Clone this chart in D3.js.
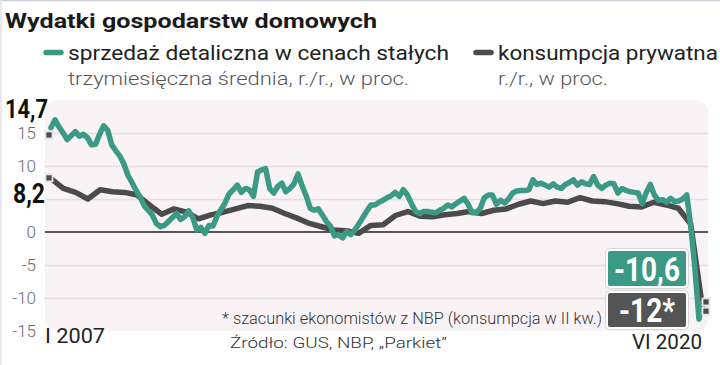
<!DOCTYPE html>
<html>
<head>
<meta charset="utf-8">
<script src="https://cdn.jsdelivr.net/npm/d3@7"></script>
<style>
  body { margin: 0; background: #fff; }
  svg { display: block; font-family: Roboto, "Noto Sans", sans-serif; }
</style>
</head>
<body>
<div id="chart"></div>
<script>
// data
// green: retail sales, 3-month average, monthly I 2007 .. VI 2020
var greenValues = [
  15.8, 17.0, 15.9, 15.0, 14.0, 14.6, 15.2, 14.5, 14.8, 14.3, 13.2, 13.3,
  14.8, 16.1, 15.4, 13.2, 12.3, 11.5, 10.3, 8.6, 7.5, 6.3, 5.3, 4.0,
  3.3, 2.6, 1.3, 0.8, 1.0, 1.6, 2.2, 2.8, 1.9, 2.3, 3.2, 2.2,
  0.3, 0.7, -0.2, 1.0, 0.9, 2.4, 3.4, 4.4, 5.8, 6.4, 7.1, 6.0,
  6.6, 6.4, 5.4, 9.1, 9.4, 9.6, 6.6, 5.9, 6.9, 7.4, 6.1, 6.6,
  7.3, 8.8, 7.0, 5.5, 3.6, 3.3, 3.5, 2.6, 1.6, 0.9, -0.6, -0.4,
  -0.9, 0.1, -0.4, 0.3, 1.2, 2.2, 3.2, 4.1, 4.1, 4.5, 4.8, 5.2,
  5.5, 6.0, 5.4, 6.4, 5.6, 4.3, 3.1, 2.8, 3.1, 3.1, 3.0, 2.9,
  3.3, 3.6, 4.1, 3.8, 4.3, 4.7, 5.1, 4.2, 2.9, 2.9, 3.6, 5.2,
  5.6, 5.6, 4.2, 4.8, 4.4, 5.0, 5.9, 6.2, 6.3, 6.3, 6.4, 7.9,
  7.2, 7.4, 7.1, 6.8, 7.3, 6.8, 6.6, 7.2, 7.5, 7.9, 7.1, 7.6,
  7.3, 7.2, 8.4, 7.1, 6.6, 7.1, 7.4, 7.3, 5.9, 6.6, 6.3, 6.1,
  6.0, 5.9, 4.3, 6.0, 7.2, 5.6, 4.8, 4.9, 4.5, 5.1, 4.6, 4.7,
  5.0, 5.6, 0.8, -5.5, -13.2, -10.6
];
// gray: private consumption, quarterly I kw. 2007 .. II kw. 2020
var grayValues = [
  8.1, 6.6, 6.0, 5.0, 6.4, 6.1, 6.0, 5.6, 4.1, 2.7, 3.5, 3.0,
  2.0, 2.6, 3.0, 3.5, 4.0, 3.9, 3.6, 2.8, 2.1, 1.3, 0.8, 0.3,
  0.2, -0.2, 1.0, 1.1, 2.5, 3.1, 2.4, 2.3, 2.6, 2.8, 3.1, 2.8,
  3.3, 3.5, 4.2, 4.7, 4.3, 4.7, 4.5, 5.2, 4.7, 4.6, 4.3, 3.9,
  3.8, 4.5, 4.1, 3.6, 1.2, -12.0
];
var yTicks = [15, 10, 0, -5, -10, -15];
var gridTicks = [15, 10, 5, -5, -10];
var startLabels = ["14,7", "8,2"];
var startValues = [14.7, 8.2];
var endLabels = ["-10,6", "-12*"];
var endValues = [-10.6, -12];
var xLabels = ["I 2007", "VI 2020"];

var svgWidth = 720;
var svgHeight = 365;
var green = "#3a9a85";
var gray = "#4b4b4b";

var svg = d3.select("#chart")
    .append("svg")
    .attr("width", svgWidth)
    .attr("height", svgHeight);

// frame lines
svg.append("line").attr("x1", 0).attr("x2", svgWidth).attr("y1", 0.5).attr("y2", 0.5)
    .attr("stroke", "#cfd0dc").attr("stroke-width", 1.5);
svg.append("line").attr("x1", 1).attr("x2", 1).attr("y1", 0).attr("y2", svgHeight)
    .attr("stroke", "#e2e2e8").attr("stroke-width", 1.5);

// title
svg.append("text")
    .attr("x", 5).attr("y", 28)
    .attr("font-size", 21).attr("font-weight", 700).attr("fill", "#1a1a1a")
    .attr("textLength", 372).attr("lengthAdjust", "spacingAndGlyphs")
    .text("Wydatki gospodarstw domowych");

// legend
var legend = [
  { x: 44, color: green, l1: "sprzedaż detaliczna w cenach stałych", w1: 381, l2: "trzymiesięczna średnia, r./r., w proc.", w2: 341 },
  { x: 474, color: gray, l1: "konsumpcja prywatna", w1: 220, l2: "r./r., w proc.", w2: 110 }
];
legend.forEach(function (d) {
  svg.append("line")
      .attr("x1", d.x + 2).attr("x2", d.x + 17).attr("y1", 52.5).attr("y2", 52.5)
      .attr("stroke", d.color).attr("stroke-width", 5.5).attr("stroke-linecap", "round");
  svg.append("text")
      .attr("x", d.x + 24).attr("y", 60)
      .attr("font-size", 20).attr("fill", "#222")
      .attr("textLength", d.w1).attr("lengthAdjust", "spacingAndGlyphs")
      .text(d.l1);
  svg.append("text")
      .attr("x", d.x + 24).attr("y", 85)
      .attr("font-size", 18).attr("font-weight", 300).attr("fill", "#555")
      .attr("textLength", d.w2).attr("lengthAdjust", "spacingAndGlyphs")
      .text(d.l2);
});

// plot panel
var panel = { left: 45, right: 708, top: 100, bottom: 331 };
svg.append("rect")
    .attr("x", panel.left).attr("y", panel.top)
    .attr("width", panel.right - panel.left).attr("height", panel.bottom - panel.top)
    .attr("rx", 12).attr("fill", "#f9f3f6");

var xScale = d3.scaleLinear()
    .domain([0, greenValues.length - 1])
    .range([51, 703]);
var yScale = d3.scaleLinear()
    .domain([-15, 15])
    .range([331, 133]);

// gridlines
var grid = svg.append("g")
    .attr("transform", `translate(${panel.left}, 0)`)
    .call(d3.axisRight(yScale).tickValues(gridTicks).tickSize(panel.right - panel.left).tickFormat(""));
grid.select(".domain").remove();
grid.selectAll(".tick line").attr("stroke", "#e6dce2").attr("stroke-width", 1.6);

// zero line
svg.append("line")
    .attr("x1", panel.left).attr("x2", panel.right)
    .attr("y1", yScale(0)).attr("y2", yScale(0))
    .attr("stroke", "#555").attr("stroke-width", 2);

// y tick labels
var yAxis = svg.append("g")
    .attr("transform", "translate(36, 0)")
    .call(d3.axisLeft(yScale).tickValues(yTicks).tickSize(0).tickPadding(0).tickFormat(d => String(d)));
yAxis.select(".domain").remove();
yAxis.selectAll("text")
    .attr("font-family", "Roboto, sans-serif")
    .attr("font-size", 17).attr("font-weight", 300).attr("fill", "#6a6a6a");

// lines
var grayLine = d3.line()
    .x((d, i) => xScale(i * (greenValues.length - 1) / (grayValues.length - 1)))
    .y(d => yScale(d));
var greenLine = d3.line()
    .x((d, i) => xScale(i))
    .y(d => yScale(d));

svg.append("path")
    .datum(grayValues)
    .attr("d", grayLine)
    .attr("fill", "none").attr("stroke", gray)
    .attr("stroke-width", 5.5).attr("stroke-linejoin", "round").attr("stroke-linecap", "round");
svg.append("path")
    .datum(greenValues)
    .attr("d", greenLine)
    .attr("fill", "none").attr("stroke", green)
    .attr("stroke-width", 5.5).attr("stroke-linejoin", "round").attr("stroke-linecap", "round");

// end markers
function marker(x, v) {
  svg.append("rect")
      .attr("x", x - 3.5).attr("y", yScale(v) - 3.5)
      .attr("width", 7).attr("height", 7)
      .attr("fill", "#4b4b4b").attr("stroke", "#e4e4e4").attr("stroke-width", 1.8);
}
startValues.forEach(v => marker(xScale(0) - 2, v));
endValues.forEach(v => marker(xScale(greenValues.length - 1) + 3, v));

// start value labels
svg.append("text")
    .attr("x", 5).attr("y", 118)
    .attr("font-size", 26).attr("font-weight", 700).attr("fill", "#111")
    .attr("textLength", 43).attr("lengthAdjust", "spacingAndGlyphs")
    .text(startLabels[0]);
svg.append("text")
    .attr("x", 13).attr("y", 203)
    .attr("font-size", 27).attr("font-weight", 700).attr("fill", "#111")
    .attr("textLength", 32).attr("lengthAdjust", "spacingAndGlyphs")
    .text(startLabels[1]);

// end value boxes
var boxes = [
  { y: 250, h: 37, fill: green, label: endLabels[0], tw: 66 },
  { y: 292, h: 36, fill: "#545454", label: endLabels[1], tw: 56 }
];
boxes.forEach(function (b) {
  svg.append("rect")
      .attr("x", 607).attr("y", b.y).attr("width", 80).attr("height", b.h)
      .attr("rx", 3).attr("fill", b.fill)
      .attr("stroke", "#fff").attr("stroke-width", 2);
  svg.append("rect")
      .attr("x", 605.5).attr("y", b.y - 1.5).attr("width", 83).attr("height", b.h + 3)
      .attr("rx", 4).attr("fill", "none")
      .attr("stroke", "#d6d6d6").attr("stroke-width", 1);
  svg.append("text")
      .attr("x", 647).attr("y", b.y + b.h - 6)
      .attr("text-anchor", "middle")
      .attr("font-size", 33).attr("font-weight", 700).attr("fill", "#fff")
      .attr("textLength", b.tw).attr("lengthAdjust", "spacingAndGlyphs")
      .text(b.label);
});

// x labels
svg.append("text")
    .attr("x", 45).attr("y", 343)
    .attr("font-size", 20).attr("fill", "#222")
    .attr("textLength", 60).attr("lengthAdjust", "spacingAndGlyphs")
    .text(xLabels[0]);
svg.append("text")
    .attr("x", 702).attr("y", 349)
    .attr("text-anchor", "end")
    .attr("font-size", 20).attr("fill", "#222")
    .attr("textLength", 70).attr("lengthAdjust", "spacingAndGlyphs")
    .text(xLabels[1]);

// footnote and source
svg.append("text")
    .attr("x", 222).attr("y", 324)
    .attr("font-size", 16).attr("font-weight", 300).attr("fill", "#333")
    .attr("textLength", 380).attr("lengthAdjust", "spacingAndGlyphs")
    .text("* szacunki ekonomistów z NBP (konsumpcja w II kw.)");
svg.append("text")
    .attr("x", 230).attr("y", 348)
    .attr("font-size", 15).attr("font-weight", 300).attr("fill", "#333")
    .attr("textLength", 217).attr("lengthAdjust", "spacingAndGlyphs")
    .text("Źródło: GUS, NBP, „Parkiet”");
</script>
</body>
</html>
